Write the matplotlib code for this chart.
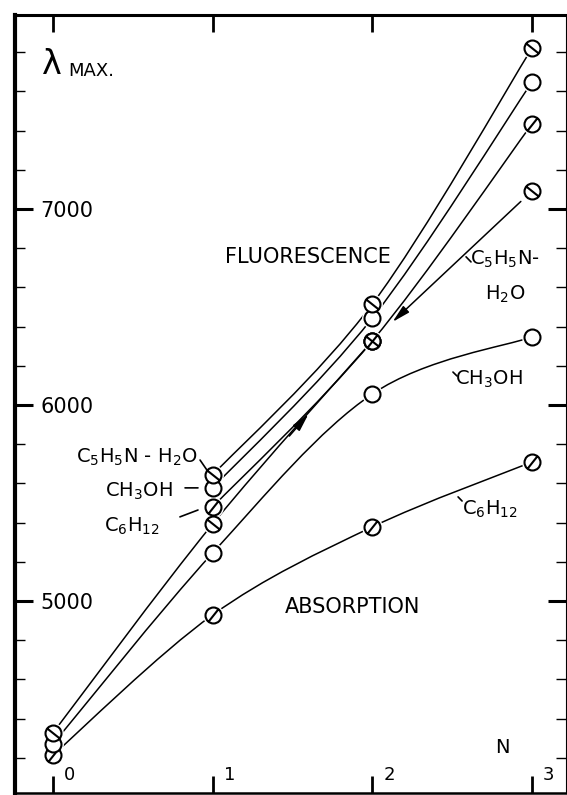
import numpy as np
import matplotlib
matplotlib.use("Agg")
import matplotlib.pyplot as plt
from matplotlib.path import Path
from matplotlib.patches import PathPatch
from matplotlib.markers import MarkerStyle

# number of units N
n_abs = [0, 1, 2, 3]
n_fl = [1, 2, 3]

# absorption maxima (A)
abs_c6h12 = [4214, 4929, 5378, 5709]
abs_ch3oh = [4270, 5245, 6056, 6347]
abs_pyr = [4327, 5393, 6327, 7092]

# fluorescence maxima (A)
fl_c6h12 = [5480, 6327, 7434]
fl_ch3oh = [5577, 6444, 7648]
fl_pyr = [5643, 6515, 7821]

y_major = [5000, 6000, 7000]
x_labels = ["0", "1", "2", "3"]


def circle_marker(slashes):
    circ = Path.unit_circle()
    verts = list(circ.vertices)
    codes = list(circ.codes)
    for (x0, y0), (x1, y1) in slashes:
        verts += [(x0, y0), (x1, y1)]
        codes += [Path.MOVETO, Path.LINETO]
    return MarkerStyle(Path(verts, codes))


fwd = ((-0.62, -0.78), (0.62, 0.78))
back = ((-0.78, 0.62), (0.78, -0.62))
m_open = "o"
m_fwd = circle_marker([fwd])
m_back = circle_marker([back])
m_cross = circle_marker([fwd, back])


def smooth_path(xs, ys):
    # catmull-rom through the points, drawn as cubic bezier segments
    pts = np.column_stack([xs, ys]).astype(float)
    ext = np.vstack([pts[0], pts, pts[-1]])
    verts = [pts[0]]
    codes = [Path.MOVETO]
    for i in range(len(pts) - 1):
        p0, p1, p2, p3 = ext[i], ext[i + 1], ext[i + 2], ext[i + 3]
        verts += [p1 + (p2 - p0) / 6, p2 - (p3 - p1) / 6, p2]
        codes += [Path.CURVE4] * 3
    return Path(verts, codes)


fig = plt.figure(figsize=(5.67, 7.95), dpi=100)
ax = fig.add_axes([15 / 567, 2 / 795, 551 / 567, 778 / 795])
ax.set_xlim(-0.238, 3.213)
ax.set_ylim(4020, 7990)

line_kw = dict(fill=False, lw=1.1, edgecolor="black", zorder=2)
for xs, ys in [(n_abs, abs_c6h12), (n_abs, abs_ch3oh), (n_abs[:3], abs_pyr[:3]),
               (n_fl, fl_c6h12), (n_fl, fl_ch3oh), (n_fl, fl_pyr)]:
    ax.add_patch(PathPatch(smooth_path(xs, ys), **line_kw))

# straight arrowed segment N=3 -> N=2 for the pyridine-water absorption
ax.annotate("", xy=(n_abs[2], abs_pyr[2]), xytext=(n_abs[3], abs_pyr[3]),
            arrowprops=dict(arrowstyle="-|>,head_length=0.9,head_width=0.22",
                            lw=1.1, color="black", shrinkA=11, shrinkB=20,
                            mutation_scale=12), zorder=2)
# arrow head on the N=1 -> N=2 segment
xa, xb = 1.48, 1.60
ax.annotate("", xy=(xb, np.interp(xb, n_abs, abs_pyr)),
            xytext=(xa, np.interp(xa, n_abs, abs_pyr)),
            arrowprops=dict(arrowstyle="-|>,head_length=0.9,head_width=0.22",
                            lw=1.1, color="black", shrinkA=0, shrinkB=0,
                            mutation_scale=12), zorder=2)

series = [
    (n_abs, abs_c6h12, m_fwd), (n_abs, abs_ch3oh, m_open), (n_abs, abs_pyr, m_back),
    (n_fl, fl_c6h12, m_fwd), (n_fl, fl_ch3oh, m_open), (n_fl, fl_pyr, m_back),
]
# white halo so the lines stop short of the circles
for xs, ys, m in series:
    ax.plot(xs, ys, ls="none", marker="o", ms=15, mfc="white", mec="none", zorder=3)
for xs, ys, m in series:
    ax.plot(xs, ys, ls="none", marker=m, ms=11.5, mfc="white", mec="black",
            mew=1.5, zorder=4)
# the two slashed points coincide at N=2
ax.plot([n_fl[1]], [fl_c6h12[1]], ls="none", marker=m_cross, ms=11.5,
        mfc="white", mec="black", mew=1.5, zorder=5)

# axes styling
ax.set_xticks(n_abs)
ax.set_xticklabels([])
ax.set_yticks(y_major)
ax.set_yticks(np.arange(4200, 8000, 200), minor=True)
ax.tick_params(axis="x", which="major", direction="in", length=12, width=2,
               top=True, bottom=True)
ax.tick_params(axis="y", which="major", direction="in", length=13, width=2.2,
               left=True, right=True, labelsize=15, pad=-18)
ax.tick_params(axis="y", which="minor", direction="in", length=7, width=1,
               left=True, right=True)
for lab in ax.get_yticklabels():
    lab.set_horizontalalignment("left")
ax.spines["left"].set_linewidth(3)
ax.spines["top"].set_linewidth(2.2)
ax.spines["bottom"].set_linewidth(1.8)
ax.spines["right"].set_linewidth(0.8)

for n, lab in zip(n_abs, x_labels):
    ax.annotate(lab, xy=(n, 0), xycoords=("data", "axes fraction"),
                xytext=(12, 13), textcoords="offset points",
                ha="center", va="center", fontsize=13)

# texts
ax.text(-0.006, 7735, "λ", fontsize=24, ha="center", va="center")
ax.text(0.094, 7704, "MAX.", fontsize=13, ha="left", va="center")
ax.text(1.594, 6755, "FLUORESCENCE", fontsize=15, ha="center", va="center")
ax.text(1.879, 4969, "ABSORPTION", fontsize=15, ha="center", va="center")
ax.text(2.812, 4250, "N", fontsize=14, ha="center", va="center")

ax.text(0.902, 5704, r"C$_5$H$_5$N - H$_2$O", fontsize=14, ha="right", va="baseline")
ax.text(0.752, 5531, r"CH$_3$OH", fontsize=14, ha="right", va="baseline")
ax.text(0.670, 5352, r"C$_6$H$_{12}$", fontsize=14, ha="right", va="baseline")
ax.text(2.612, 6714, r"C$_5$H$_5$N-", fontsize=14, ha="left", va="baseline")
ax.text(2.706, 6536, r"H$_2$O", fontsize=14, ha="left", va="baseline")
ax.text(2.518, 6102, r"CH$_3$OH", fontsize=14, ha="left", va="baseline")
ax.text(2.561, 5439, r"C$_6$H$_{12}$", fontsize=14, ha="left", va="baseline")

# short leader strokes next to the labels
leaders = [
    ((0.921, 5719), (0.964, 5668)),
    ((0.827, 5577), (0.908, 5577)),
    ((0.795, 5429), (0.908, 5464)),
    ((2.587, 6756), (2.618, 6730)),
    ((2.505, 6168), (2.530, 6148)),
    ((2.537, 5531), (2.562, 5510)),
]
for p0, p1 in leaders:
    ax.annotate("", xy=p1, xytext=p0,
                arrowprops=dict(arrowstyle="-", lw=1.2, color="black",
                                shrinkA=0, shrinkB=0))

fig.savefig("out.png", dpi=100)
